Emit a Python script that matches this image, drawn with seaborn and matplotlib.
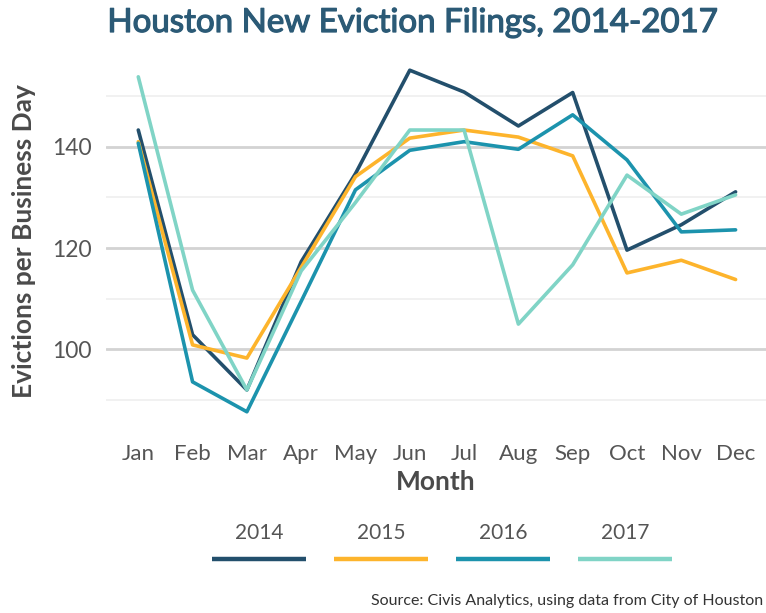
import matplotlib
matplotlib.use("Agg")
import matplotlib.pyplot as plt
from matplotlib.lines import Line2D
import matplotlib.patheffects as pe
import seaborn as sns
import pandas as pd

# Monthly new eviction filings per business day, Houston
months = ["Jan", "Feb", "Mar", "Apr", "May", "Jun",
          "Jul", "Aug", "Sep", "Oct", "Nov", "Dec"]
years = ["2014", "2015", "2016", "2017"]
filings_2014 = [143.3, 102.9, 92.0, 117.3, 134.7, 155.1, 150.8, 144.1, 150.7, 119.6, 124.6, 131.1]
filings_2015 = [141.0, 100.9, 98.3, 116.2, 134.1, 141.7, 143.3, 141.9, 138.2, 115.1, 117.6, 113.8]
filings_2016 = [140.7, 93.6, 87.7, 109.5, 131.5, 139.3, 141.0, 139.5, 146.3, 137.4, 123.2, 123.6]
filings_2017 = [153.8, 111.7, 92.0, 115.5, 129.0, 143.3, 143.3, 105.0, 116.7, 134.4, 126.7, 130.5]
year_colors = ["#234f6c", "#fdb42c", "#1c93ad", "#80d4c6"]

series = [filings_2014, filings_2015, filings_2016, filings_2017]
df = pd.DataFrame({
    "month_idx": [i for _ in years for i in range(len(months))],
    "Month": [m for _ in years for m in months],
    "year": [y for y in years for _ in months],
    "filings": [v for s in series for v in s],
})

sns.set_theme(style="white")
plt.rcParams["font.family"] = ["Lato", "DejaVu Sans"]

W, H = 766, 613
fig = plt.figure(figsize=(W / 100, H / 100), dpi=100)
ax_left, ax_right, ax_top, ax_bottom = 105.7, 766, 53, 429
ax = fig.add_axes([ax_left / W, 1 - ax_bottom / H,
                   (ax_right - ax_left) / W, (ax_bottom - ax_top) / H])

# gridlines: major at 20s, minor in between
for v in [90, 110, 130, 150]:
    ax.axhline(v, color="#eeeeee", lw=1.1, zorder=0)
for v in [100, 120, 140]:
    ax.axhline(v, color="#d3d3d3", lw=2.0, zorder=0)

sns.lineplot(data=df, x="month_idx", y="filings", hue="year",
             palette=year_colors, hue_order=years, linewidth=2.6,
             legend=False, ax=ax, zorder=3)

ax.set_xlim(-0.6, 11.56)
ax.set_ylim(84.3, 158.5)
ax.set_xticks(range(len(months)))
ax.set_xticklabels(months)
ax.set_yticks([100, 120, 140])
ax.set_yticklabels(["100", "120", "140"])
ax.tick_params(axis="both", length=0, labelsize=16, labelcolor="#555555")
ax.tick_params(axis="y", labelsize=16.5)
ax.tick_params(axis="x", pad=11)
ax.tick_params(axis="y", pad=10)
for sp in ax.spines.values():
    sp.set_visible(False)

ax.set_xlabel("Month", fontsize=19, fontweight="bold", color="#4a4a4a",
              verticalalignment="center")
ax.xaxis.set_label_coords(0.5, (ax_bottom - 482) / (ax_bottom - ax_top))
ax.set_ylabel("Evictions per Business Day", fontsize=19, fontweight="bold",
              color="#4a4a4a", verticalalignment="center")
ax.yaxis.set_label_coords((24 - ax_left) / (ax_right - ax_left), 0.5)

# medium-weight title: regular Lato with a thin outline of the same colour
title_color = "#2b5a76"
fig.text(412 / W, 1 - 23 / H, "Houston New Eviction Filings, 2014-2017",
         ha="center", va="center", fontsize=23.8, color=title_color,
         path_effects=[pe.withStroke(linewidth=0.9, foreground=title_color)])

# legend: year label above a colored key line
seg_starts = [212, 334, 456, 578]
seg_len = 94
for start, yr, col in zip(seg_starts, years, year_colors):
    fig.text((start + seg_len / 2) / W, 1 - 533 / H, yr, ha="center",
             va="center", fontsize=15, color="#555555")
    fig.add_artist(Line2D([start / W, (start + seg_len) / W],
                          [1 - 559 / H, 1 - 559 / H], color=col, lw=3.2,
                          solid_capstyle="butt"))

fig.text(763 / W, 1 - 601 / H,
         "Source: Civis Analytics, using data from City of Houston",
         ha="right", va="center", fontsize=11.5, color="#333333")

fig.savefig("out.png", dpi=100)
